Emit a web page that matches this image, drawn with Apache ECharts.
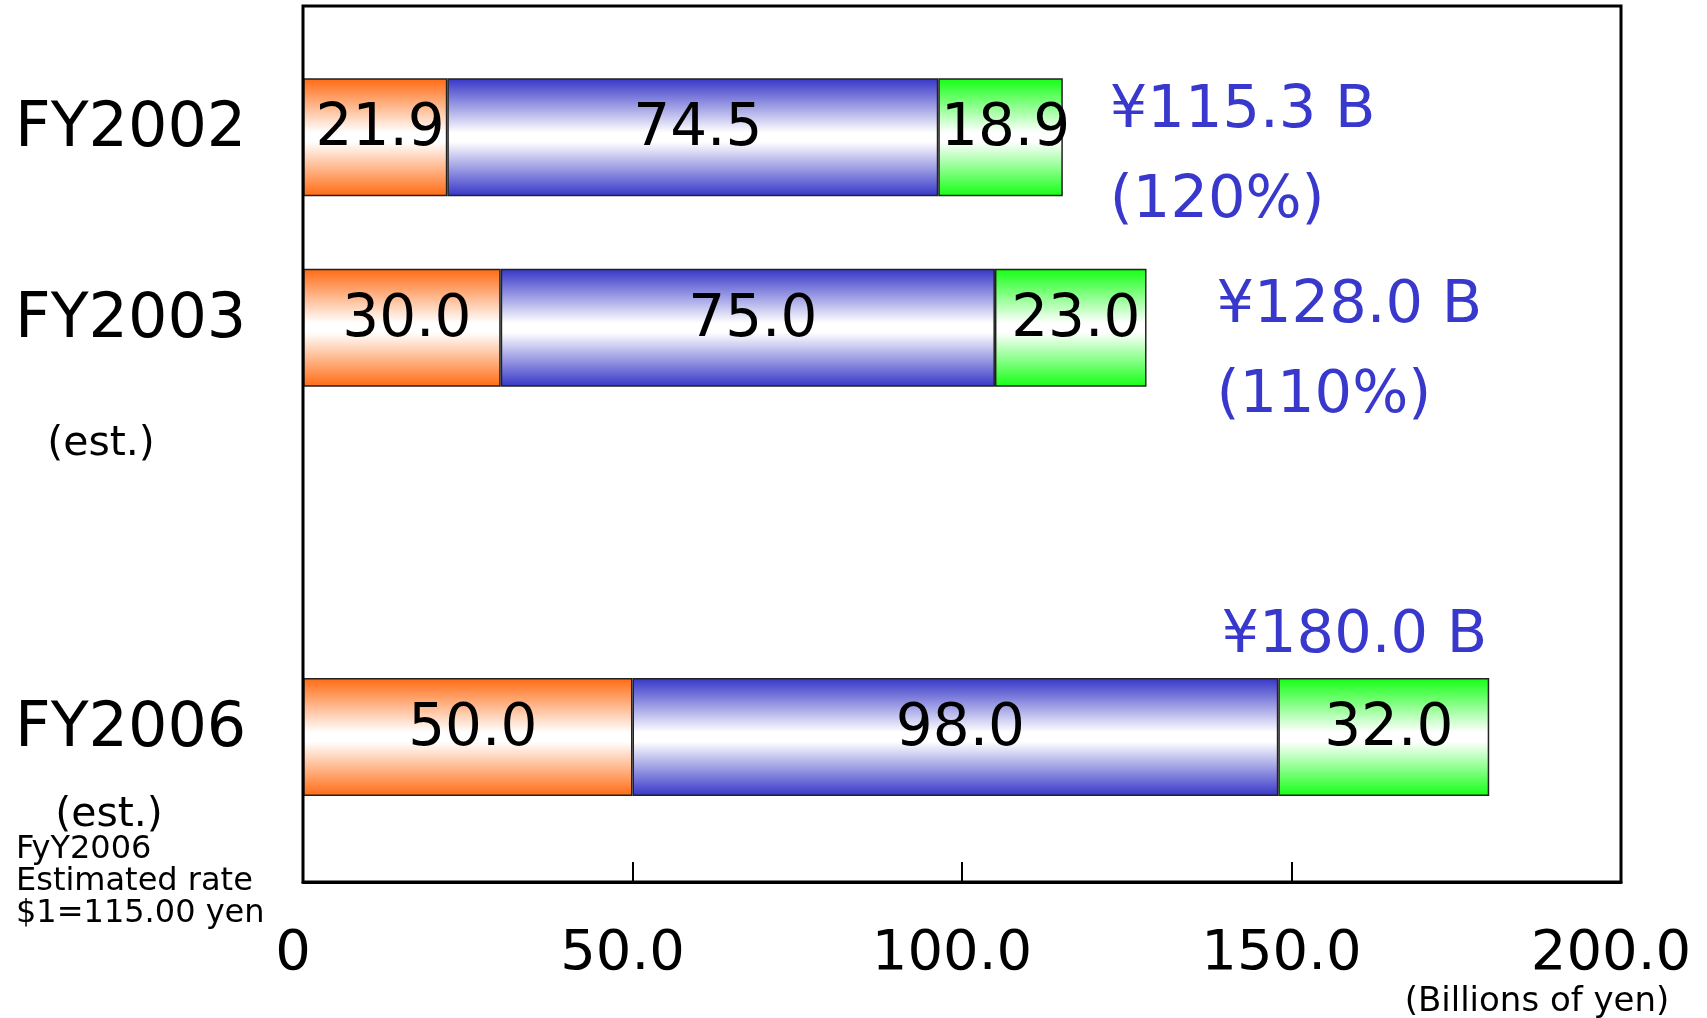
<!DOCTYPE html>
<html>
<head>
<meta charset="utf-8">
<script src="https://cdn.jsdelivr.net/npm/echarts@6/dist/echarts.min.js"></script>
<style>
html,body{margin:0;padding:0;background:#fff;}
#chart{width:1707px;height:1018px;}
</style>
</head>
<body>
<div id="chart"></div>
<script>
// ---- data ----
const categories = ['FY2002', 'FY2003', 'FY2006'];
const segOrange = [21.9, 30.0, 50.0];
const segBlue = [74.5, 75.0, 98.0];
const segGreen = [18.9, 23.0, 32.0];
const totals = [115.3, 128.0, 180.0];
const growth = ['(120%)', '(110%)', ''];
const xTickLabels = ['0', '50.0', '100.0', '150.0', '200.0'];

// ---- styling ----
const FONT = 'DejaVu Sans';
const BLUE_TXT = '#3838CC';
function grad(c) {
  return new echarts.graphic.LinearGradient(0, 0, 0, 1, [
    { offset: 0, color: c }, { offset: 0.46, color: '#ffffff' }, { offset: 0.54, color: '#ffffff' }, { offset: 1, color: c }
  ]);
}
const segColors = ['#FF6A12', '#3535C8', '#14FF14'];
const totalLabelLayout = [
  { position: 'right', distance: 0, offset: [47, 19] },
  { position: 'right', distance: 0, offset: [70, 24] },
  { position: ['100%', 0], align: 'right', verticalAlign: 'bottom', offset: [-2, -12] }
];

const groups = [[0, 1], [2]]; // grid 1 holds FY2002/FY2003, grid 2 holds FY2006
const series = [];
groups.forEach(function (idxs, g) {
  const gi = g + 1;
  [segOrange, segBlue, segGreen].forEach(function (arr, k) {
    series.push({
      type: 'bar', name: ['Segment 1', 'Segment 2', 'Segment 3'][k],
      xAxisIndex: gi, yAxisIndex: gi, stack: 'total' + gi,
      barWidth: 118, barGap: '-100%', z: 3,
      data: idxs.map(function (i) { return arr[i]; }),
      itemStyle: { color: grad(segColors[k]), borderColor: '#222', borderWidth: 1.5 },
      label: {
        show: true, position: 'inside', offset: [5, -7],
        fontFamily: FONT, fontSize: 58, color: '#000',
        formatter: function (p) { return p.value.toFixed(1); }
      }
    });
  });
  series.push({
    type: 'bar', name: 'Total', xAxisIndex: gi, yAxisIndex: gi,
    barWidth: 118, barGap: '-100%', z: 1, silent: true,
    itemStyle: { color: 'rgba(0,0,0,0)' },
    data: idxs.map(function (i) {
      const lay = totalLabelLayout[i];
      const txt = growth[i] ? '{t|¥' + totals[i].toFixed(1) + ' B}\n{t|' + growth[i] + '}'
                            : '{t|¥' + totals[i].toFixed(1) + ' B}';
      return {
        value: totals[i],
        label: Object.assign({
          show: true, formatter: txt,
          rich: { t: { fontFamily: FONT, fontSize: 59, color: BLUE_TXT, lineHeight: growth[i] ? 90 : 59 } }
        }, lay)
      };
    })
  });
});

const hiddenX = function (gi) {
  return { type: 'value', gridIndex: gi, min: 0, max: 200, interval: 50, show: false };
};
const catY = function (gi, cats) {
  return {
    type: 'category', gridIndex: gi, data: cats, inverse: true,
    axisLine: { show: false }, axisTick: { show: false },
    axisLabel: {
      align: 'left', margin: 288, formatter: '{a|{value}}',
      rich: { a: { fontFamily: FONT, fontSize: 62, color: '#000', lineHeight: 62, padding: [0, 0, 14, 0] } }
    }
  };
};

const option = {
  animation: false,
  backgroundColor: '#ffffff',
  grid: [
    { left: 303, right: 86, top: 6, bottom: 136, show: true, borderColor: '#000', borderWidth: 3, z: 10 },
    { left: 303, right: 86, top: 42, height: 381 },
    { left: 303, right: 86, top: 592, height: 290 }
  ],
  xAxis: [
    {
      type: 'value', gridIndex: 0, min: 0, max: 200, interval: 50, z: 10,
      axisLine: { show: true, lineStyle: { color: '#000', width: 3 } },
      axisTick: { show: true, inside: true, length: 20, lineStyle: { color: '#000', width: 2 } },
      splitLine: { show: false },
      axisLabel: {
        margin: 44, fontFamily: FONT, fontSize: 56, color: '#000', padding: [0, 20, 0, 0],
        formatter: function (v) { return xTickLabels[Math.round(v / 50)]; }
      }
    },
    hiddenX(1), hiddenX(2)
  ],
  yAxis: [
    { type: 'value', gridIndex: 0, min: 0, max: 1, show: false },
    catY(1, categories.slice(0, 2)),
    catY(2, categories.slice(2))
  ],
  graphic: [
    { type: 'text', x: 101, y: 444, z: 20, style: { text: '(est.)', fontFamily: FONT, fontSize: 41, fill: '#000', align: 'center', verticalAlign: 'middle' } },
    { type: 'text', x: 109, y: 815, z: 20, style: { text: '(est.)', fontFamily: FONT, fontSize: 41, fill: '#000', align: 'center', verticalAlign: 'middle' } },
    { type: 'text', x: 16, y: 834, z: 20, style: { text: 'FyY2006\nEstimated rate\n$1=115.00 yen', fontFamily: FONT, fontSize: 32, lineHeight: 32, fill: '#000', align: 'left', verticalAlign: 'top' } },
    { type: 'text', x: 1537, y: 1002, z: 20, style: { text: '(Billions of yen)', fontFamily: FONT, fontSize: 34, fill: '#000', align: 'center', verticalAlign: 'middle' } }
  ],
  series: series
};

const chart = echarts.init(document.getElementById('chart'), null, { renderer: 'canvas' });
chart.setOption(option);
</script>
</body>
</html>
